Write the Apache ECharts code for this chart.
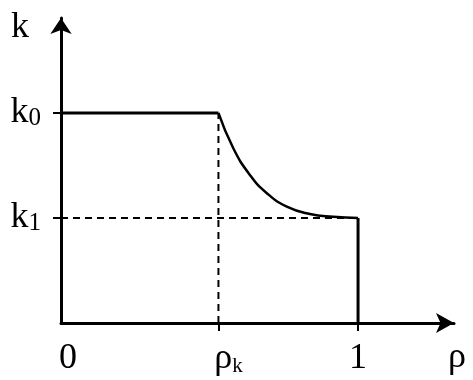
<!DOCTYPE html>
<html><head><meta charset="utf-8">
<script src="https://cdn.jsdelivr.net/npm/echarts@6/dist/echarts.min.js"></script>
<style>html,body{margin:0;padding:0;background:#fff}#c{width:473px;height:380px}</style>
</head><body><div id="c"></div>
<script>
// values
const rhoK = 0.53;
const k0 = 1.0;
const k1 = 0.5;
const flatSeg = [[0, k0], [rhoK, k0]];
const curvePts = [[0.53, 1.0], [0.58, 0.832], [0.636, 0.705], [0.693, 0.618], [0.76, 0.554], [0.838, 0.519], [0.916, 0.506], [1.0, 0.5]];
const dropSeg = [[1, k1], [1, 0]];
const dashV = [[rhoK, 0], [rhoK, k0]];
const dashH = [[0, k1], [1, k1]];
const xTickVals = [0, rhoK, 1];
const xTickLabels = ['{z|0}', '{p|ρ}{s|k}', '1'];
const yTickVals = [k1, k0];
const yTickLabels = ['k{s|1}', 'k{s|0}'];

const FONT = "'Liberation Serif','Times New Roman',serif";
const chart = echarts.init(document.getElementById('c'));
const solid = {color: '#000', width: 3};
const dash = {color: '#000', width: 2, type: [7, 5]};
chart.setOption({
  animation: false,
  grid: {left: 61, right: 19, top: 18, bottom: 57},
  xAxis: {
    type: 'value', min: 0, max: 1.323,
    splitLine: {show: false},
    axisLine: {lineStyle: {color: '#000', width: 3}, symbol: ['none', 'arrow'], symbolSize: [15, 18]},
    axisTick: {customValues: [rhoK, 1], length: 8, lineStyle: {color: '#000', width: 2}},
    axisLabel: {
      customValues: xTickVals, margin: 18, color: '#000', fontFamily: FONT, fontSize: 36,
      formatter: v => xTickLabels[xTickVals.indexOf(v)],
      rich: {s: {fontSize: 21, fontFamily: FONT, color: '#000', verticalAlign: 'bottom'},
             p: {fontSize: 36, fontFamily: FONT, color: '#000', padding: [0, 0, 0, 20]},
             z: {fontSize: 36, fontFamily: FONT, color: '#000', padding: [0, 0, 0, 14]}}
    },
    name: 'ρ', nameLocation: 'end', nameGap: 3,
    nameTextStyle: {color: '#000', fontFamily: FONT, fontSize: 36, align: 'center', verticalAlign: 'top', padding: [17, 0, 0, 0]}
  },
  yAxis: {
    type: 'value', min: 0, max: 1.452,
    splitLine: {show: false},
    axisLine: {lineStyle: {color: '#000', width: 3}, symbol: ['none', 'arrow'], symbolSize: [16, 16]},
    axisTick: {customValues: yTickVals, length: 8, lineStyle: {color: '#000', width: 2}},
    axisLabel: {
      customValues: yTickVals, margin: 20, color: '#000', fontFamily: FONT, fontSize: 36,
      formatter: v => yTickLabels[yTickVals.indexOf(v)],
      rich: {s: {fontSize: 25, fontFamily: FONT, color: '#000', verticalAlign: 'bottom'}}
    },
    name: 'k', nameLocation: 'end', nameGap: 8,
    nameTextStyle: {color: '#000', fontFamily: FONT, fontSize: 36, align: 'right', verticalAlign: 'top', padding: [0, 32, 0, 0]}
  },
  series: [
    {type: 'line', data: dashV, symbol: 'none', lineStyle: dash, z: 1},
    {type: 'line', data: dashH, symbol: 'none', lineStyle: dash, z: 1},
    {type: 'line', data: flatSeg, symbol: 'none', lineStyle: solid, z: 3},
    {type: 'line', data: curvePts, symbol: 'none', smooth: 0.5, lineStyle: {color: '#000', width: 2.5}, z: 3},
    {type: 'line', data: dropSeg, symbol: 'none', lineStyle: solid, z: 3}
  ]
});
</script></body></html>
